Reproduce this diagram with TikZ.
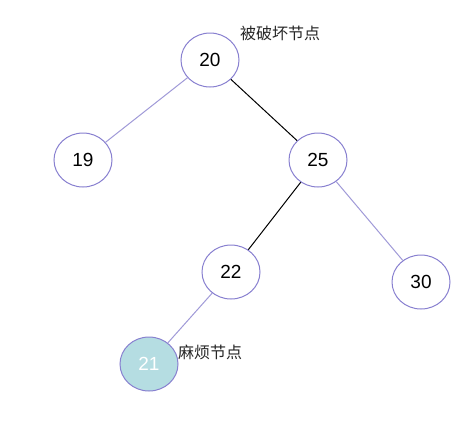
\documentclass[tikz,border=0pt]{standalone}
\usepackage{fontspec}
\setmainfont{Liberation Sans}
\newfontfamily\cjk{Noto Sans CJK SC}
\usetikzlibrary{shapes.geometric}
\definecolor{ringc}{HTML}{8880D0}
\definecolor{edgec}{HTML}{A09AD8}
\definecolor{fillc}{HTML}{B5DDE2}
\tikzset{
  tnode/.style={ellipse, draw=ringc, line width=1pt, fill=white, minimum width=58pt, minimum height=54pt, inner sep=0pt, font=\fontsize{19}{21}\selectfont},
  soft/.style={draw=edgec, line width=1pt},
  hard/.style={draw=black, line width=1pt},
  lbl/.style={font=\cjk\fontsize{16}{18}\selectfont, text=black!85}
}
\begin{document}
\begin{tikzpicture}[x=1pt,y=-1pt]
\useasboundingbox[fill=white] (0,0) rectangle (474,440);
\node[tnode] (n20) at (210,60) {20};
\node[tnode] (n19) at (83,160) {19};
\node[tnode] (n25) at (318,160) {25};
\node[tnode] (n22) at (231,272) {22};
\node[tnode] (n30) at (421,282) {30};
\node[tnode, fill=fillc, text=white] (n21) at (149,364) {21};
\draw[soft] (n20) -- (n19);
\draw[hard] (n20) -- (n25);
\draw[hard] (n25) -- (n22);
\draw[soft] (n25) -- (n30);
\draw[soft] (n22) -- (n21);
\node[lbl] (l1) at (280,33) {被破坏节点};
\node[lbl] (l2) at (210,352) {麻烦节点};
\end{tikzpicture}
\end{document}
